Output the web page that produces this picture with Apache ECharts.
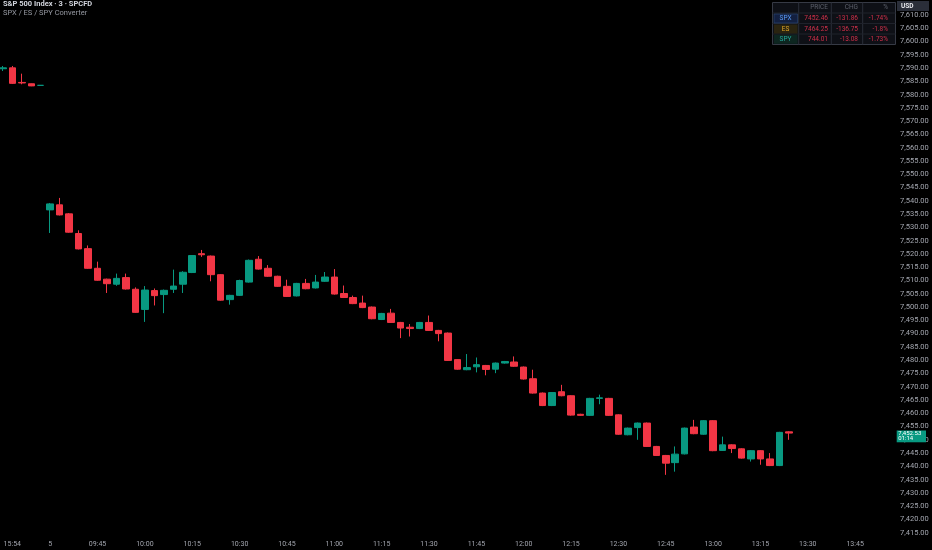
<!DOCTYPE html>
<html>
<head>
<meta charset="utf-8">
<script src="https://cdn.jsdelivr.net/npm/echarts@6/dist/echarts.min.js"></script>
<style>
html,body{margin:0;padding:0;background:#000;}
#c{width:932px;height:550px;}
</style>
</head>
<body>
<div id="c"></div>
<script>
// ---- categories (3-minute bars) ----
const prevDayTimes = ['15:51','15:54','15:57','16:00','16:03'];
const dayTimes = ['09:30','09:33','09:36','09:39','09:42','09:45','09:48','09:51','09:54','09:57',
  '10:00','10:03','10:06','10:09','10:12','10:15','10:18','10:21','10:24','10:27',
  '10:30','10:33','10:36','10:39','10:42','10:45','10:48','10:51','10:54','10:57',
  '11:00','11:03','11:06','11:09','11:12','11:15','11:18','11:21','11:24','11:27',
  '11:30','11:33','11:36','11:39','11:42','11:45','11:48','11:51','11:54','11:57',
  '12:00','12:03','12:06','12:09','12:12','12:15','12:18','12:21','12:24','12:27',
  '12:30','12:33','12:36','12:39','12:42','12:45','12:48','12:51','12:54','12:57',
  '13:00','13:03','13:06','13:09','13:12','13:15','13:18','13:21','13:24'];
const futureTimes = ['13:27','13:30','13:33','13:36','13:39','13:42','13:45','13:48','13:51','13:54'];

// ---- OHLC values ----
const opens = [7589.75,7590.1,7584.6,7584.1,7583.5,
  7536.6,7538.5,7535.1,7527.7,7522.0,7514.6,7510.5,7508.6,7511.1,7506.7,
  7499.1,7506.2,7504.7,7506.7,7508.6,7513.0,7520.1,7519.2,7512.2,7502.8,
  7504.4,7509.4,7518.0,7514.6,7511.6,7507.8,7504.2,7508.9,7507.2,7509.7,
  7511.3,7505.1,7503.6,7501.5,7500.0,7495.3,7497.7,7494.2,7492.4,7491.9,
  7494.2,7491.2,7490.2,7480.2,7476.4,7477.5,7478.0,7476.6,7478.9,7479.3,
  7477.4,7473.0,7467.6,7462.9,7468.1,7466.6,7459.6,7459.2,7465.6,7465.6,
  7459.4,7451.9,7454.6,7456.3,7447.5,7444.1,7441.4,7444.7,7454.8,7452.1,
  7457.2,7446.0,7448.1,7446.6,7442.8,7445.9,7442.8,7440.3,7453.0];
const closes = [7590.1,7584.25,7584.4,7583.3,7583.5,
  7538.85,7534.7,7528.2,7521.9,7514.6,7510.1,7508.8,7510.8,7506.8,7498.0,
  7506.4,7504.3,7506.3,7507.9,7513.1,7519.4,7519.7,7512.2,7502.6,7504.4,
  7510.0,7517.6,7514.3,7511.6,7507.8,7504.0,7508.9,7506.9,7509.4,7511.3,
  7504.9,7503.6,7501.3,7499.8,7495.6,7497.6,7494.2,7492.1,7491.9,7494.2,
  7491.2,7490.0,7479.9,7476.6,7477.2,7478.3,7476.5,7478.9,7479.5,7477.7,
  7472.9,7467.6,7462.9,7467.8,7466.6,7459.3,7459.2,7465.6,7465.8,7459.2,
  7452.1,7454.4,7456.3,7447.5,7444.1,7441.2,7444.6,7454.4,7452.3,7457.2,
  7445.9,7448.1,7446.7,7443.1,7445.9,7442.8,7440.3,7452.8,7452.53];
const lows = [7588.9,7584.0,7583.9,7583.2,7583.5,
  7527.9,7534.5,7528.0,7521.7,7514.4,7509.9,7505.3,7508.0,7506.6,7497.8,
  7494.4,7500.6,7497.7,7505.3,7505.3,7512.8,7518.9,7509.7,7502.4,7500.9,
  7504.2,7509.2,7514.1,7511.4,7507.6,7503.8,7504.0,7506.7,7507.0,7509.5,
  7504.7,7503.4,7501.1,7499.6,7495.4,7495.1,7494.0,7488.3,7488.9,7491.7,
  7491.0,7487.1,7479.7,7476.4,7476.2,7475.4,7474.3,7475.1,7478.7,7477.5,
  7472.7,7467.4,7462.7,7462.7,7466.4,7459.1,7459.0,7459.0,7463.4,7459.0,
  7451.9,7451.7,7450.0,7447.3,7443.9,7436.8,7438.0,7444.5,7452.1,7451.9,
  7445.7,7445.8,7445.0,7442.9,7441.8,7440.6,7440.1,7440.1,7450.0];
const highs = [7590.8,7590.8,7587.9,7584.2,7583.5,
  7539.2,7541.1,7535.4,7528.9,7523.2,7517.1,7510.7,7512.6,7512.6,7507.4,
  7507.9,7507.0,7506.6,7514.1,7513.5,7519.6,7521.5,7519.4,7512.4,7504.6,
  7510.3,7517.9,7519.2,7515.8,7511.8,7510.3,7509.1,7510.6,7512.1,7513.2,
  7514.3,7508.1,7504.3,7504.3,7500.2,7497.8,7499.3,7494.4,7493.6,7494.4,
  7496.8,7491.4,7490.4,7480.4,7482.3,7481.0,7478.2,7479.1,7479.7,7481.4,
  7477.6,7476.4,7467.8,7468.0,7470.7,7466.8,7459.8,7465.8,7467.0,7465.8,
  7459.6,7454.6,7456.5,7456.5,7447.7,7444.3,7447.5,7454.6,7457.5,7457.4,
  7457.4,7451.2,7448.3,7446.8,7446.1,7446.1,7445.0,7453.0,7453.2];

// ---- axis tick labels ----
const timeTickCats = ['15:54','09:30','09:45','10:00','10:15','10:30','10:45','11:00','11:15','11:30',
  '11:45','12:00','12:15','12:30','12:45','13:00','13:15','13:30','13:45'];
const timeTickLabels = ['15:54','5','09:45','10:00','10:15','10:30','10:45','11:00','11:15','11:30',
  '11:45','12:00','12:15','12:30','12:45','13:00','13:15','13:30','13:45'];
const priceMin = 7410, priceMax = 7615, priceStep = 5;

// ---- legend table ----
const tableHeaders = ['PRICE','CHG','%'];
const tableSymbols = ['SPX','ES','SPY'];
const tablePrices = ['7452.46','7464.25','744.01'];
const tableChanges = ['-131.86','-136.75','-13.08'];
const tablePcts = ['-1.74%','-1.8%','-1.73%'];
const lastCountdown = '01:14';

const UP = '#089981', DOWN = '#f23645', FONT = 'Roboto, "Noto Sans", sans-serif';
const categories = prevDayTimes.concat(dayTimes, futureTimes);
const ohlc = opens.map((o, i) => [o, closes[i], lows[i], highs[i]]);

const chart = echarts.init(document.getElementById('c'), null, {renderer: 'canvas'});
const option = {
  backgroundColor: '#000000',
  animation: false,
  title: {
    text: 'S&P 500 Index · 3 · SPCFD',
    subtext: 'SPX / ES / SPY Converter',
    left: 3, top: 0, itemGap: 1, padding: 0,
    textStyle: {color: '#d1d4dc', fontSize: 7.5, fontWeight: 'bold', fontFamily: FONT},
    subtextStyle: {color: '#9598a1', fontSize: 7.5, fontFamily: FONT}
  },
  grid: {left: 2.85, right: 48.44, top: 1.725, bottom: 4.0, containLabel: false, outerBoundsMode: 'none'},
  xAxis: {
    type: 'category', data: categories, boundaryGap: false,
    axisLine: {show: false}, axisTick: {show: false}, splitLine: {show: false},
    axisLabel: {
      interval: (idx, val) => timeTickCats.indexOf(val) >= 0,
      formatter: val => { const k = timeTickCats.indexOf(val); return k >= 0 ? timeTickLabels[k] : ''; },
      color: '#a3a6af', fontSize: 7, fontFamily: FONT, margin: -1.5, verticalAlign: 'middle', hideOverlap: false
    }
  },
  yAxis: {
    type: 'value', position: 'right', scale: true,
    min: priceMin, max: priceMax, interval: priceStep,
    axisLine: {show: false}, axisTick: {show: false}, splitLine: {show: false},
    axisLabel: {
      showMinLabel: false, showMaxLabel: false,
      formatter: v => v.toLocaleString('en-US', {minimumFractionDigits: 2, maximumFractionDigits: 2}),
      color: '#a3a6af', fontSize: 7.5, fontFamily: FONT, margin: 16.5, align: 'left'
    }
  },
  series: [{
    type: 'candlestick', data: ohlc, barWidth: 7, clip: false,
    itemStyle: {color: UP, color0: DOWN, borderColor: UP, borderColor0: DOWN, borderWidth: 1}
  }]
};
chart.setOption(option);

// ---- overlays: legend table, currency tag, last price tag ----
const g = [];
g.push({type: 'rect', shape: {x: 772.5, y: 2.5, width: 123, height: 42}, style: {fill: '#0e1016', stroke: '#363a45', lineWidth: 1}, z: 10});
[798.7, 831.3, 862.7].forEach(x => g.push({type: 'line', shape: {x1: x, y1: 2.5, x2: x, y2: 44.5}, style: {stroke: '#2a2e39', lineWidth: 1}, z: 11}));
[13, 23.5, 34].forEach(y => g.push({type: 'line', shape: {x1: 772.5, y1: y, x2: 895.5, y2: y}, style: {stroke: '#1f222b', lineWidth: 1}, z: 11}));
const symBg = ['#132040', '#2a2410', '#0d2620'];
const symColor = ['#5b9cf6', '#e0a526', '#26a69a'];
const colRight = [828, 858, 888];
const rowY = [7.75, 18.5, 29, 39.25];
tableHeaders.forEach((h, j) => g.push({type: 'text', z: 12, style: {text: h, x: colRight[j], y: rowY[0], fill: '#5d606b', fontSize: 6.5, fontFamily: FONT, align: 'right', verticalAlign: 'middle'}}));
tableSymbols.forEach((s, i) => {
  const cy = rowY[i + 1];
  g.push({type: 'rect', z: 11, shape: {x: 774, y: cy - 4.5, width: 23.5, height: 9}, style: {fill: symBg[i], stroke: i === 0 ? '#2c4a7a' : null, lineWidth: 0.6}});
  g.push({type: 'text', z: 12, style: {text: s, x: 785.5, y: cy, fill: symColor[i], fontSize: 6.5, fontFamily: FONT, align: 'center', verticalAlign: 'middle'}});
  [tablePrices[i], tableChanges[i], tablePcts[i]].forEach((t, j) => g.push({type: 'text', z: 12, style: {text: t, x: colRight[j], y: cy, fill: '#d0304a', fontSize: 6.5, fontFamily: FONT, align: 'right', verticalAlign: 'middle'}}));
});
g.push({type: 'rect', z: 10, shape: {x: 897, y: 1, width: 32, height: 10}, style: {fill: '#2a2e39'}});
g.push({type: 'text', z: 12, style: {text: 'USD', x: 901, y: 6, fill: '#e8e9ed', fontSize: 6.5, fontWeight: 'bold', fontFamily: FONT, align: 'left', verticalAlign: 'middle'}});

const lastClose = closes[closes.length - 1];
const py = chart.convertToPixel({yAxisIndex: 0}, lastClose);
g.push({type: 'rect', z: 10, shape: {x: 896.7, y: py - 2.6, width: 29.3, height: 11.8}, style: {fill: UP}});
g.push({type: 'text', z: 12, style: {text: lastClose.toLocaleString('en-US', {minimumFractionDigits: 2}), x: 898.3, y: py + 0.4, fill: '#ffffff', fontSize: 6, fontFamily: FONT, align: 'left', verticalAlign: 'middle'}});
g.push({type: 'text', z: 12, style: {text: lastCountdown, x: 898.3, y: py + 5.8, fill: '#ffffff', fontSize: 6, fontFamily: FONT, align: 'left', verticalAlign: 'middle'}});
chart.setOption({graphic: g});
</script>
</body>
</html>
